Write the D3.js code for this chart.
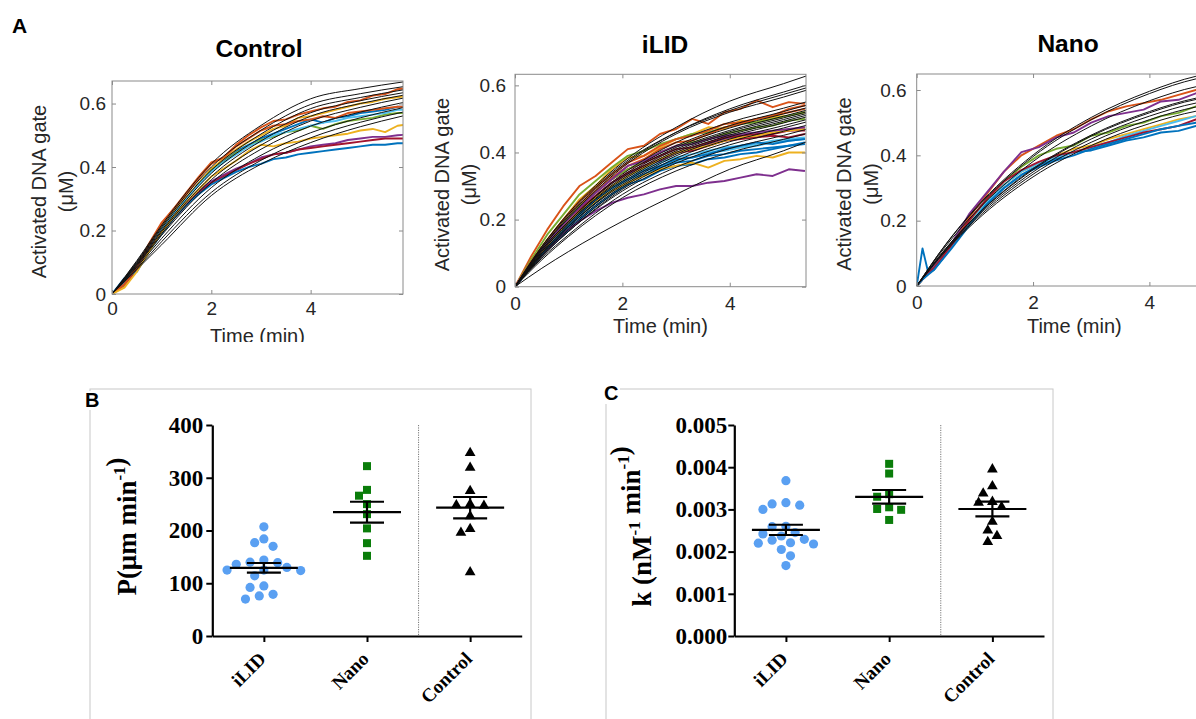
<!DOCTYPE html>
<html><head><meta charset="utf-8">
<script src="https://cdn.jsdelivr.net/npm/d3@7"></script>
<style>body{margin:0;background:#fff}svg{display:block}</style>
</head><body><svg id="chart" width="1196" height="719"></svg>
<script>
// ---------------- DATA ----------------
// Panel A – Control (time in min, activated DNA gate in µM)
const ctrlTime = [0,0.25,0.5,0.75,1,1.25,1.5,1.75,2,2.25,2.5,2.75,3,3.25,3.5,3.75,4,4.25,4.5,4.75,5,5.25,5.5,5.75,6];
const ctrlTraces = [
  [0,.04,.08,.15,.21,.26,.30,.35,.39,.42,.45,.47,.49,.505,.52,.535,.55,.54,.555,.56,.57,.575,.58,.59,.59],
  [0,.03,.085,.16,.225,.27,.32,.37,.415,.43,.47,.50,.525,.545,.55,.565,.575,.585,.59,.605,.61,.625,.63,.645,.65],
  [0,.025,.08,.15,.21,.26,.305,.35,.395,.425,.455,.48,.50,.52,.53,.555,.56,.57,.58,.59,.60,.605,.615,.62,.625],
  [0,.03,.075,.14,.20,.245,.285,.325,.355,.375,.395,.41,.43,.44,.445,.455,.465,.47,.475,.485,.49,.495,.495,.50,.503],
  [0,.03,.08,.15,.205,.255,.30,.345,.39,.415,.445,.465,.485,.495,.51,.515,.53,.52,.535,.545,.55,.555,.565,.57,.57],
  [0,.03,.08,.145,.205,.255,.30,.345,.385,.415,.44,.465,.48,.50,.51,.52,.53,.54,.545,.555,.56,.565,.57,.58,.58],
  [0,.03,.075,.14,.195,.24,.28,.32,.35,.37,.39,.41,.425,.44,.445,.455,.46,.465,.47,.475,.48,.485,.49,.49,.49],
  [0,.05,.07,.135,.19,.24,.28,.315,.345,.365,.385,.40,.41,.425,.43,.44,.445,.45,.455,.46,.465,.47,.47,.475,.475],
  [0,.03,.085,.155,.22,.27,.315,.365,.41,.43,.465,.49,.515,.53,.535,.545,.55,.56,.555,.57,.575,.58,.585,.59,.59],
  [0,.02,.07,.135,.195,.245,.29,.33,.37,.395,.42,.45,.47,.465,.475,.48,.49,.495,.50,.505,.515,.52,.51,.53,.535]
];
const ctrlFitTime = [0,0.5,1,2,3,4,5,5.86];
const ctrlFits = [
  [0,.105,.217,.41,.531,.615,.647,.668],
  [0,.102,.212,.40,.516,.597,.631,.653],
  [0,.099,.207,.39,.504,.584,.619,.643],
  [0,.097,.201,.38,.493,.571,.609,.634],
  [0,.094,.196,.37,.482,.56,.60,.626],
  [0,.092,.19,.36,.469,.545,.588,.617],
  [0,.089,.185,.35,.456,.529,.573,.603],
  [0,.085,.175,.335,.437,.508,.555,.587],
  [0,.08,.165,.32,.421,.492,.541,.573],
  [0,.077,.155,.31,.409,.477,.527,.561]
];

// Panel A – iLID
const ilidTime = [0,0.3,0.6,0.9,1.2,1.5,1.8,2.1,2.4,2.7,3.0,3.3,3.6,3.9,4.2,4.5,4.8,5.1,5.4];
const ilidTraces = [
  [0,.06,.11,.155,.2,.24,.275,.305,.32,.345,.36,.365,.38,.385,.395,.40,.41,.42,.43],
  [0,.09,.17,.24,.30,.33,.37,.41,.42,.455,.47,.50,.485,.52,.53,.555,.535,.55,.545],
  [0,.07,.14,.20,.26,.30,.35,.385,.39,.415,.44,.455,.475,.47,.495,.49,.505,.51,.52],
  [0,.07,.125,.18,.23,.27,.31,.335,.36,.375,.40,.41,.425,.44,.45,.445,.46,.465,.47],
  [0,.08,.155,.215,.275,.315,.355,.39,.405,.425,.44,.455,.46,.475,.485,.49,.50,.51,.52],
  [0,.06,.12,.17,.215,.255,.29,.32,.335,.36,.375,.385,.40,.405,.415,.42,.43,.435,.44],
  [0,.07,.13,.19,.24,.28,.32,.35,.37,.39,.41,.415,.43,.445,.45,.455,.455,.465,.465],
  [0,.06,.115,.165,.21,.25,.285,.31,.335,.355,.37,.375,.39,.395,.405,.41,.415,.42,.425],
  [0,.07,.13,.19,.245,.285,.325,.36,.38,.41,.43,.435,.455,.475,.485,.50,.51,.53,.54],
  [0,.065,.12,.17,.215,.255,.285,.31,.33,.35,.36,.37,.355,.375,.38,.39,.385,.40,.40],
  [0,.06,.11,.16,.195,.225,.25,.265,.275,.29,.30,.30,.31,.315,.325,.335,.33,.35,.345],
  [0,.07,.13,.19,.24,.28,.32,.35,.375,.40,.42,.43,.44,.455,.465,.475,.48,.495,.50],
  [0,.065,.12,.17,.22,.26,.30,.33,.35,.37,.385,.395,.405,.415,.42,.425,.435,.44,.445],
  [0,.065,.125,.18,.23,.27,.31,.34,.36,.38,.40,.405,.42,.435,.44,.445,.45,.445,.455],
  [0,.06,.115,.165,.215,.26,.295,.32,.345,.36,.38,.385,.395,.41,.42,.43,.425,.435,.44],
  [0,.075,.14,.20,.255,.295,.335,.37,.39,.42,.44,.45,.465,.485,.49,.50,.51,.52,.53],
  [0,.065,.125,.18,.225,.265,.30,.33,.355,.38,.40,.41,.42,.435,.445,.45,.46,.465,.47],
  [0,.07,.13,.185,.235,.28,.32,.36,.375,.40,.42,.425,.44,.45,.455,.46,.465,.47,.475]
];
const ilidFitTime = [0,0.5,1,2,3,4,5,5.5];
const ilidFits = [
  [0,.12,.22,.37,.475,.553,.605,.632],
  [0,.115,.21,.36,.46,.53,.58,.604],
  [0,.12,.215,.365,.46,.525,.573,.596],
  [0,.115,.205,.355,.455,.52,.565,.589],
  [0,.11,.195,.335,.43,.49,.532,.554],
  [0,.11,.195,.33,.42,.48,.522,.544],
  [0,.105,.19,.325,.415,.473,.515,.536],
  [0,.105,.19,.32,.41,.466,.508,.529],
  [0,.10,.185,.315,.405,.462,.503,.524],
  [0,.10,.18,.31,.40,.457,.498,.519],
  [0,.10,.18,.305,.395,.452,.493,.514],
  [0,.095,.175,.30,.39,.447,.488,.509],
  [0,.095,.17,.295,.383,.44,.48,.501],
  [0,.09,.165,.29,.375,.432,.473,.494],
  [0,.09,.165,.285,.368,.423,.463,.484],
  [0,.085,.155,.275,.356,.412,.451,.472],
  [0,.08,.15,.265,.345,.40,.439,.459],
  [0,.055,.105,.195,.275,.35,.405,.436]
];

// Panel A – Nano
const nanoTime = [0,0.1,0.2,0.3,0.6,0.9,1.2,1.5,1.8,2.1,2.4,2.7,3.0,3.3,3.6,3.9,4.2,4.5,4.8,5.1];
const nanoTraces = [
  [0,.115,.04,.05,.12,.19,.25,.30,.34,.37,.39,.41,.415,.43,.445,.455,.47,.475,.49,.495],
  [0,.02,.04,.06,.13,.21,.28,.35,.40,.43,.46,.48,.51,.535,.55,.56,.57,.585,.60,.605],
  [0,.02,.04,.055,.12,.195,.26,.31,.35,.375,.40,.42,.43,.45,.465,.48,.495,.51,.52,.525],
  [0,.02,.04,.06,.13,.22,.285,.35,.41,.425,.455,.47,.50,.52,.53,.54,.565,.57,.59,.595],
  [0,.02,.04,.055,.125,.20,.265,.32,.365,.40,.42,.43,.46,.47,.49,.50,.52,.53,.55,.555],
  [0,.02,.04,.05,.12,.19,.255,.31,.35,.375,.395,.41,.425,.44,.46,.475,.49,.505,.52,.52],
  [0,.02,.04,.055,.125,.20,.265,.32,.355,.38,.40,.41,.425,.44,.455,.47,.48,.49,.51,.51],
  [0,.02,.035,.05,.115,.185,.25,.30,.34,.365,.385,.40,.42,.435,.45,.465,.48,.49,.50,.505]
];
const nanoFitTime = [0,0.5,1,2,3,4,4.8,5.2];
const nanoFits = [
  [0,.128,.236,.401,.516,.596,.642,.655],
  [0,.127,.233,.396,.509,.589,.634,.647],
  [0,.122,.224,.381,.49,.567,.61,.622],
  [0,.115,.211,.359,.462,.534,.575,.587],
  [0,.114,.21,.356,.459,.53,.571,.582],
  [0,.112,.206,.349,.45,.52,.56,.571],
  [0,.11,.201,.342,.44,.509,.548,.559],
  [0,.107,.196,.334,.43,.497,.535,.546]
];
const kinXTicks = [0,2,4];
const kinYTicks = [0,0.2,0.4,0.6];

// Panels B and C
const categories = ["iLID","Nano","Control"];
const pIlid = [207,184,177,170,144,140,139,136,130,125,124,125,114,95,92,79,76,70];
const pNano = [322,277,266,250,231,204,176,152];
const pControl = [347,319,275,250,248,247,227,203,196,121];
const kIlid = [0.00368,0.00316,0.00313,0.00310,0.00300,0.00260,0.00259,0.00245,0.00242,0.00237,0.00229,0.00227,0.00221,0.00220,0.00218,0.00205,0.00190,0.00167];
const kNano = [0.00408,0.00385,0.00336,0.00330,0.00305,0.00301,0.00299,0.00275];
const kControl = [0.00395,0.00355,0.00338,0.00318,0.00316,0.00306,0.00271,0.00250,0.00237,0.00223];
const pTicks = [0,100,200,300,400];
const kTicks = [0,0.001,0.002,0.003,0.004,0.005];

// ---------------- DRAWING ----------------
const svg = d3.select("#chart");
const defs = svg.append("defs");
const mlColors = ["#0072BD","#D95319","#EDB120","#7E2F8E","#77AC30","#4DBEEE","#A2142F"];
const sans = "'Liberation Sans', Arial, Helvetica, sans-serif";
const serif = "'Liberation Serif', 'Times New Roman', serif";

function kinetics(cfg, time, traces, fitTime, fits) {
  const clipId = cfg.id + "-clip", plotId = cfg.id + "-plot";
  defs.append("clipPath").attr("id", clipId).append("rect")
    .attr("x", cfg.clipX0).attr("y", 0).attr("width", cfg.clipX1 - cfg.clipX0).attr("height", cfg.clipY);
  defs.append("clipPath").attr("id", plotId).append("rect")
    .attr("x", cfg.left).attr("y", cfg.top).attr("width", cfg.right - cfg.left).attr("height", cfg.bottom - cfg.top);
  const g = svg.append("g").attr("clip-path", `url(#${clipId})`);
  const x = d3.scaleLinear().domain([0, cfg.xMax]).range([cfg.left, cfg.right]);
  const y = d3.scaleLinear().domain([0, cfg.yMax]).range([cfg.bottom, cfg.top]);

  const plot = g.append("g").attr("clip-path", `url(#${plotId})`);
  const dataLine = d3.line().x((d, i) => x(time[i])).y(d => y(d));
  plot.selectAll("path.trace").data(traces).join("path").attr("class", "trace")
    .attr("d", dataLine).attr("fill", "none")
    .attr("stroke", (d, i) => mlColors[i % 7]).attr("stroke-width", 1.9)
    .attr("stroke-linejoin", "round");
  const fitLine = d3.line().x((d, i) => x(fitTime[i])).y(d => y(d)).curve(d3.curveMonotoneX);
  plot.selectAll("path.fit").data(fits).join("path").attr("class", "fit")
    .attr("d", fitLine).attr("fill", "none").attr("stroke", "#111").attr("stroke-width", 1);

  const styleAxis = a => {
    a.select(".domain").remove();
    a.attr("font-family", sans).attr("font-size", 19);
    a.selectAll(".tick line").attr("stroke", "#8a8a8a");
    a.selectAll(".tick text").attr("fill", "#262626");
  };
  g.append("g").attr("transform", `translate(0,${cfg.bottom})`)
    .call(d3.axisBottom(x).tickValues(kinXTicks).tickFormat(d3.format("d")).tickSize(-4).tickSizeOuter(0).tickPadding(cfg.xPad))
    .call(styleAxis);
  g.append("g").attr("transform", `translate(0,${cfg.top})`)
    .call(d3.axisTop(x).tickValues(kinXTicks).tickFormat("").tickSize(-4).tickSizeOuter(0))
    .call(styleAxis);
  g.append("g").attr("transform", `translate(${cfg.left},0)`)
    .call(d3.axisLeft(y).tickValues(kinYTicks).tickFormat(d => d === 0 ? "0" : d3.format(".1f")(d)).tickSize(-4).tickSizeOuter(0).tickPadding(cfg.yPad))
    .call(styleAxis);
  g.append("g").attr("transform", `translate(${cfg.right},0)`)
    .call(d3.axisRight(y).tickValues(kinYTicks).tickFormat("").tickSize(-4).tickSizeOuter(0))
    .call(styleAxis);
  g.append("rect").attr("x", cfg.left).attr("y", cfg.top)
    .attr("width", cfg.right - cfg.left).attr("height", cfg.bottom - cfg.top)
    .attr("fill", "none").attr("stroke", "#8a8a8a").attr("stroke-width", 1);

  g.append("text").attr("x", cfg.titleX).attr("y", cfg.titleY).attr("text-anchor", "middle")
    .attr("font-family", sans).attr("font-weight", "bold").attr("font-size", 24.5).attr("fill", "#000")
    .text(cfg.title);
  const cy = (cfg.top + cfg.bottom) / 2 + 4;
  [["Activated DNA gate", cfg.left - 73], ["(\u03BCM)", cfg.left - 46]].forEach(([t, cx]) => {
    g.append("text").attr("transform", `translate(${cx},${cy}) rotate(-90)`)
      .attr("text-anchor", "middle").attr("dy", "0.35em")
      .attr("font-family", sans).attr("font-size", 20).attr("fill", "#262626").text(t);
  });
  g.append("text").attr("x", (cfg.left + cfg.right) / 2).attr("y", cfg.xLabelY)
    .attr("text-anchor", "middle").attr("font-family", sans).attr("font-size", 20).attr("fill", "#262626")
    .text("Time (min)");
}

kinetics({id: "ctrl", left: 112, right: 403, top: 81, bottom: 294, xMax: 5.86, yMax: 0.671,
  title: "Control", titleX: 259, titleY: 57, xPad: 8, yPad: 6, xLabelY: 342.5,
  clipX0: 0, clipX1: 420, clipY: 342}, ctrlTime, ctrlTraces, ctrlFitTime, ctrlFits);
kinetics({id: "ilid", left: 515, right: 806, top: 74.3, bottom: 286.7, xMax: 5.42, yMax: 0.633,
  title: "iLID", titleX: 665, titleY: 53, xPad: 10, yPad: 9, xLabelY: 333,
  clipX0: 420, clipX1: 830, clipY: 337}, ilidTime, ilidTraces, ilidFitTime, ilidFits);
kinetics({id: "nano", left: 916.7, right: 1232, top: 74, bottom: 286, xMax: 5.42, yMax: 0.649,
  title: "Nano", titleX: 1068, titleY: 52, xPad: 10, yPad: 10, xLabelY: 333,
  clipX0: 830, clipX1: 1196, clipY: 337}, nanoTime, nanoTraces, nanoFitTime, nanoFits);

svg.append("text").attr("x", 12).attr("y", 33).attr("font-family", sans).attr("font-weight", "bold")
  .attr("font-size", 21).attr("fill", "#000").text("A");

// ---------- scatter panels ----------
function swarm(vals, y, cx, r) {
  const order = vals.map((v, i) => i).sort((a, b) => vals[b] - vals[a]);
  const placed = [], out = new Array(vals.length);
  for (const i of order) {
    const py = y(vals[i]);
    for (let k = 0; k < 60; k++) {
      const off = k === 0 ? 0 : (k % 2 ? -1 : 1) * Math.ceil(k / 2) * r;
      const px = cx + off;
      if (placed.every(p => Math.hypot(p[0] - px, p[1] - py) >= 2 * r + 0.6)) {
        placed.push([px, py]); out[i] = [px, py]; break;
      }
    }
  }
  return out;
}

function scatterPanel(cfg, groups) {
  svg.append("rect").attr("x", cfg.boxX).attr("y", 389).attr("width", cfg.boxW).attr("height", 400)
    .attr("fill", "none").attr("stroke", "#c8c8c8").attr("stroke-width", 1);
  svg.append("rect").attr("x", cfg.letterBg[0]).attr("y", cfg.letterBg[1]).attr("width", cfg.letterBg[2])
    .attr("height", cfg.letterBg[3]).attr("fill", "#fff");
  svg.append("text").attr("x", cfg.letterX).attr("y", cfg.letterY).attr("font-family", sans)
    .attr("font-weight", "bold").attr("font-size", 20).attr("fill", "#000").text(cfg.letter);

  const g = svg.append("g");
  const x = d3.scalePoint().domain(categories).range([cfg.axisX, cfg.axisRight]).padding(0.5);
  const y = d3.scaleLinear().domain([0, cfg.yMax]).range([636, 425]);
  const step = x.step();

  // dotted separator between Nano and Control
  g.append("line").attr("x1", x("Nano") + step / 2).attr("x2", x("Nano") + step / 2)
    .attr("y1", 425).attr("y2", 636).attr("stroke", "#777").attr("stroke-width", 1)
    .attr("stroke-dasharray", "1.2,1.2");

  const yAxis = g.append("g").attr("transform", `translate(${cfg.axisX},0)`)
    .call(d3.axisLeft(y).tickValues(cfg.ticks).tickFormat(cfg.fmt).tickSize(6).tickSizeOuter(0).tickPadding(cfg.tickPad));
  const xAxis = g.append("g").attr("transform", "translate(0,636)")
    .call(d3.axisBottom(x).tickFormat("").tickSize(6).tickSizeOuter(0));
  [yAxis, xAxis].forEach(a => {
    a.select(".domain").attr("stroke", "#000").attr("stroke-width", 2.2);
    a.selectAll(".tick line").attr("stroke", "#000").attr("stroke-width", 2);
    a.attr("font-family", serif).attr("font-size", 23).attr("font-weight", "bold");
    a.selectAll(".tick text").attr("fill", "#000");
  });

  categories.forEach(c => {
    g.append("text").attr("transform", `translate(${x(c) + 3},660) rotate(-45)`)
      .attr("text-anchor", "end").attr("font-family", serif).attr("font-weight", "bold")
      .attr("font-size", 19).attr("fill", "#000").text(c);
  });

  // y label
  const lab = g.append("text").attr("transform", `translate(${cfg.labelX},526.5) rotate(-90)`)
    .attr("text-anchor", "middle").attr("dy", "0.35em").attr("font-family", serif)
    .attr("font-weight", "bold").attr("font-size", 27).attr("fill", "#000");
  cfg.label.forEach(part => {
    if (part.sup) {
      lab.append("tspan").attr("dy", -11).attr("font-size", 17).text(part.sup);
      lab.append("tspan").attr("dy", 11).text("");
    } else {
      lab.append("tspan").text(part.t);
    }
  });

  groups.forEach((grp, gi) => {
    const cx = x(categories[gi]);
    const r = grp.r;
    const pts = swarm(grp.vals, y, cx, r);
    if (grp.shape === "circle") {
      g.selectAll(null).data(pts).join("circle").attr("cx", d => d[0]).attr("cy", d => d[1])
        .attr("r", r).attr("fill", "#5aa0f2");
    } else if (grp.shape === "square") {
      g.selectAll(null).data(pts).join("rect").attr("x", d => d[0] - r).attr("y", d => d[1] - r)
        .attr("width", 2 * r).attr("height", 2 * r).attr("fill", "#0a7d0a");
    } else {
      const tri = d3.symbol().type(d3.symbolTriangle).size(50);
      g.selectAll(null).data(pts).join("path").attr("d", tri)
        .attr("transform", d => `translate(${d[0]},${d[1]})`).attr("fill", "#000");
    }
    const m = d3.mean(grp.vals);
    const sem = d3.deviation(grp.vals) / Math.sqrt(grp.vals.length);
    const bars = g.append("g").attr("stroke", "#000").attr("stroke-width", 2.2);
    bars.append("line").attr("x1", cx - 34).attr("x2", cx + 34).attr("y1", y(m)).attr("y2", y(m));
    bars.append("line").attr("x1", cx - 17).attr("x2", cx + 17).attr("y1", y(m + sem)).attr("y2", y(m + sem));
    bars.append("line").attr("x1", cx - 17).attr("x2", cx + 17).attr("y1", y(m - sem)).attr("y2", y(m - sem));
    bars.append("line").attr("x1", cx).attr("x2", cx).attr("y1", y(m + sem)).attr("y2", y(m - sem));
  });
}

scatterPanel({boxX: 90, boxW: 441, letter: "B", letterX: 85, letterY: 407, letterBg: [83, 391, 20, 19],
  axisX: 212.3, axisRight: 521.7, yMax: 400, ticks: pTicks, fmt: d3.format("d"), tickPad: 3,
  labelX: 126.5, label: [{t: "P(\u03BCm min"}, {sup: "-1"}, {t: ")"}]},
  [{vals: pIlid, shape: "circle", r: 4.6}, {vals: pNano, shape: "square", r: 4}, {vals: pControl, shape: "triangle", r: 4.6}]);

scatterPanel({boxX: 606, boxW: 447, letter: "C", letterX: 604, letterY: 400, letterBg: [601, 384, 19, 20],
  axisX: 734.3, axisRight: 1044, yMax: 0.005, ticks: kTicks, fmt: d3.format(".3f"), tickPad: 1,
  labelX: 641.7, label: [{t: "k (nM"}, {sup: "-1"}, {t: " min"}, {sup: "-1"}, {t: ")"}]},
  [{vals: kIlid, shape: "circle", r: 4.6}, {vals: kNano, shape: "square", r: 4}, {vals: kControl, shape: "triangle", r: 4.6}]);
</script></body></html>
